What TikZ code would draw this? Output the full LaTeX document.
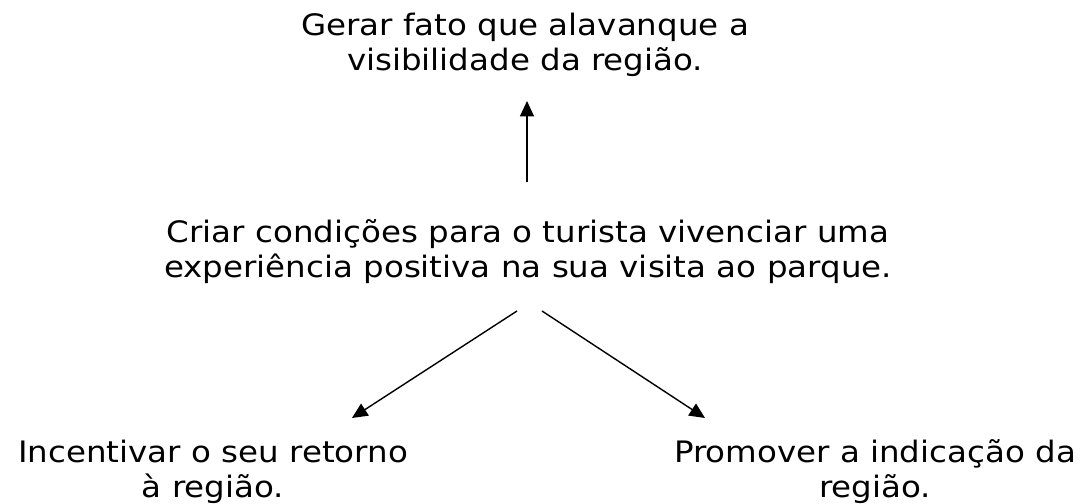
\documentclass[tikz,border=0pt]{standalone}
\usepackage{fontspec}
\setmainfont[FakeStretch=1.1]{DejaVu Sans}
\usetikzlibrary{arrows.meta, positioning}

\tikzset{
  txt/.style={align=center, inner sep=0pt, font=\fontsize{21}{24.8}\selectfont},
  arr/.style={-{Triangle[length=11pt,width=10pt]}, line width=1pt}
}

\begin{document}
\begin{tikzpicture}[x=0.025cm, y=-0.025cm]
	\useasboundingbox (0,0) rectangle (1087,504);
	\node[txt] (top) at (525,45) {Gerar fato que alavanque a\\visibilidade da região.};
	\node[txt] (mid) at (528,252) {Criar condições para o turista vivenciar uma\\experiência positiva na sua visita ao parque.};
	\node[txt] (left) at (213,472) {Incentivar o seu retorno\\à região.};
	\node[txt] (right) at (875,472) {Promover a indicação da\\região.};
	% setas
	\draw[arr] ([shift={(-1,-70)}]mid.center) -- ([shift={(2,56)}]top.center);
	\draw[arr] ([shift={(-11,59)}]mid.center) -- ([shift={(139,-54)}]left.center);
	\draw[arr] ([shift={(14,59)}]mid.center) -- ([shift={(-170,-54)}]right.center);
\end{tikzpicture}
\end{document}
